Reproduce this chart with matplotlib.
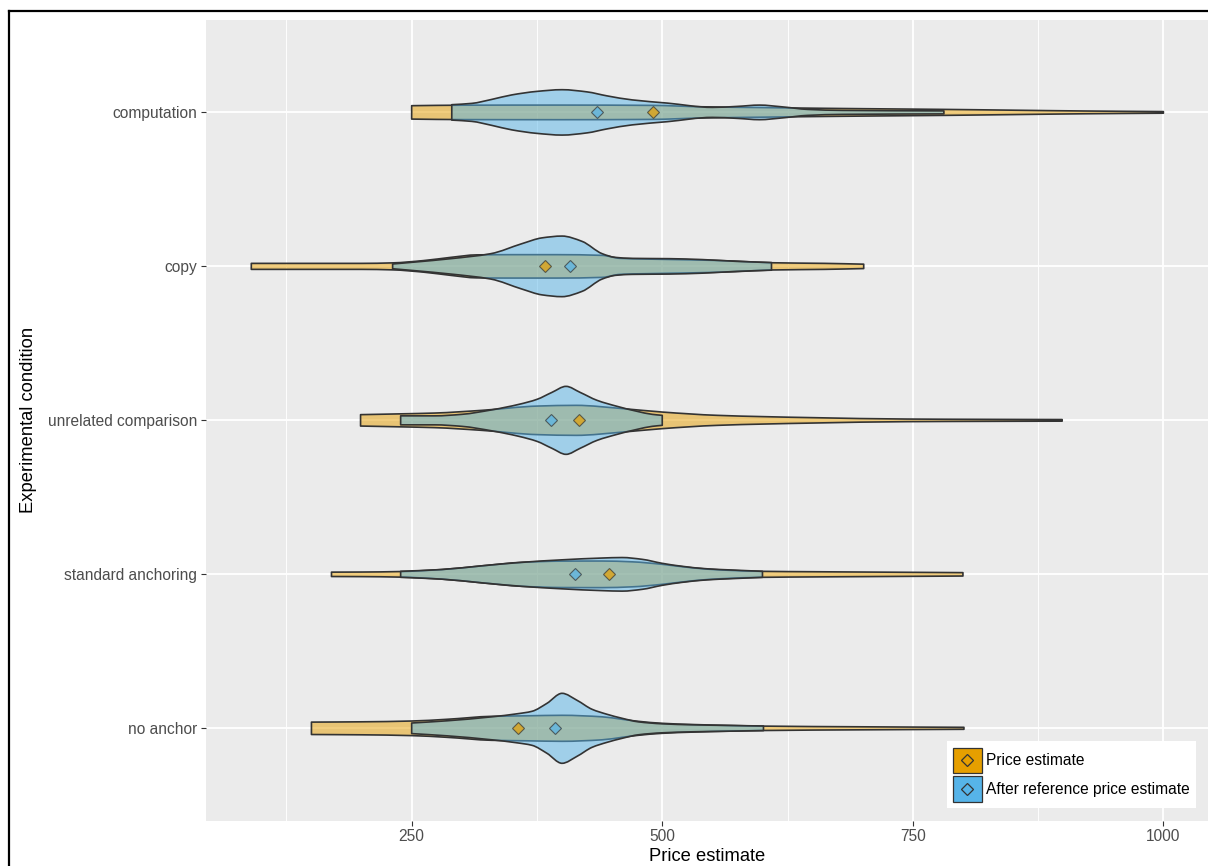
import numpy as np
import matplotlib
matplotlib.use("Agg")
import matplotlib.pyplot as plt
from matplotlib.path import Path
from matplotlib.patches import PathPatch, Patch, Rectangle
from matplotlib.lines import Line2D
from matplotlib.legend_handler import HandlerBase
from matplotlib.colors import to_rgba

plt.rcParams['font.family'] = ['Liberation Sans', 'DejaVu Sans']

# ---- data -------------------------------------------------------------
conditions = ["no anchor", "standard anchoring", "unrelated comparison",
              "copy", "computation"]
series_labels = ["Price estimate", "After reference price estimate"]

# mean price estimates per condition (same order as `conditions`)
mean_price = [356.0, 447.3, 417.4, 382.8, 491.0]
mean_after = [392.9, 412.6, 389.2, 407.8, 434.5]

# kernel density profiles (price grid, relative density) for each violin
noanchor_price_x = [150, 200, 250, 285, 330, 365, 400, 440, 460, 476, 500, 530, 570, 601, 700, 801]
noanchor_price_d = [6.2, 6.5, 7.3, 9.0, 12.0, 12.5, 13.0, 11.5, 9.0, 7.0, 5.0, 3.8, 2.8, 2.2, 1.5, 1.0]
noanchor_after_x = [250, 285, 330, 355, 370, 385, 400, 415, 430, 445, 460, 476, 500, 530, 570, 601]
noanchor_after_d = [5.3, 7.5, 11.5, 14.5, 17.0, 25.0, 35.0, 28.0, 19.0, 14.0, 10.0, 6.5, 4.5, 3.5, 2.8, 2.3]

standard_price_x = [170, 200, 239, 280, 320, 360, 400, 440, 470, 500, 530, 560, 600, 650, 700, 750, 800]
standard_price_d = [2.2, 2.3, 2.8, 4.8, 8.5, 12.0, 13.2, 13.3, 12.5, 10.0, 6.5, 4.3, 3.0, 2.6, 2.3, 2.0, 1.7]
standard_after_x = [239, 280, 320, 360, 400, 440, 460, 480, 500, 520, 545, 570, 600]
standard_after_d = [3.0, 4.8, 8.5, 12.0, 14.5, 16.3, 16.8, 15.0, 11.0, 8.0, 5.5, 4.3, 3.0]

unrelated_price_x = [199, 239, 273, 320, 376, 414, 461, 500, 555, 650, 744, 820, 899]
unrelated_price_d = [5.7, 6.5, 7.3, 10.0, 14.3, 15.0, 11.7, 8.3, 5.0, 2.7, 1.3, 1.0, 0.8]
unrelated_after_x = [239, 273, 300, 330, 357, 375, 390, 404, 418, 435, 455, 475, 490, 500]
unrelated_after_d = [4.5, 4.5, 6.0, 10.5, 16.0, 21.0, 28.0, 34.0, 28.0, 20.0, 14.0, 9.0, 6.0, 5.0]

copy_price_x = [90, 150, 200, 231, 262, 289, 315, 351, 395, 440, 458, 484, 529, 573, 610, 662, 701]
copy_price_d = [3.0, 3.0, 3.0, 3.5, 5.8, 9.0, 11.5, 11.7, 11.7, 11.0, 8.0, 7.3, 6.5, 5.3, 3.6, 3.0, 2.2]
copy_after_x = [231, 253, 289, 329, 360, 380, 400, 420, 440, 453, 470, 507, 540, 574, 609]
copy_after_d = [2.4, 4.3, 7.7, 12.7, 22.7, 28.5, 30.3, 25.0, 12.7, 9.0, 8.0, 7.7, 6.8, 5.0, 3.8]

comp_price_x = [250, 300, 400, 490, 540, 600, 650, 700, 780, 850, 920, 1000]
comp_price_d = [6.7, 7.2, 7.3, 7.0, 5.6, 4.8, 4.2, 3.7, 3.0, 2.2, 1.4, 0.8]
comp_after_x = [290, 310, 330, 350, 375, 400, 425, 445, 470, 505, 550, 575, 597, 620, 645, 680, 781]
comp_after_d = [7.7, 9.0, 13.0, 17.5, 21.0, 22.7, 20.5, 16.5, 12.5, 9.3, 5.0, 6.0, 7.3, 5.5, 3.0, 2.0, 1.5]

price_profiles = [(noanchor_price_x, noanchor_price_d), (standard_price_x, standard_price_d),
                  (unrelated_price_x, unrelated_price_d), (copy_price_x, copy_price_d),
                  (comp_price_x, comp_price_d)]
after_profiles = [(noanchor_after_x, noanchor_after_d), (standard_after_x, standard_after_d),
                  (unrelated_after_x, unrelated_after_d), (copy_after_x, copy_after_d),
                  (comp_after_x, comp_after_d)]

# ---- styling ----------------------------------------------------------
ORANGE = "#E69F00"
BLUE = "#56B4E9"
OUTLINE = "#333333"
PANEL_BG = "#EBEBEB"
TICK_GREY = "#4D4D4D"
DENSITY_SCALE = 1.0 / 154.0   # relative density -> half width in category units

W, H, DPI = 1208, 866, 100


def monotone_slopes(x, y):
    x = np.asarray(x, float)
    y = np.asarray(y, float)
    h = np.diff(x)
    d = np.diff(y) / h
    m = np.zeros_like(y)
    m[0], m[-1] = d[0], d[-1]
    for k in range(1, len(x) - 1):
        if d[k - 1] * d[k] > 0:
            w1 = 2 * h[k] + h[k - 1]
            w2 = h[k] + 2 * h[k - 1]
            m[k] = (w1 + w2) / (w1 / d[k - 1] + w2 / d[k])
    return m


def violin_path(xs, ds, y0):
    xs = np.asarray(xs, float)
    hw = np.asarray(ds, float) * DENSITY_SCALE
    m = monotone_slopes(xs, hw)
    verts = [(xs[0], y0 - hw[0]), (xs[0], y0 + hw[0])]
    codes = [Path.MOVETO, Path.LINETO]
    for i in range(len(xs) - 1):
        dx = xs[i + 1] - xs[i]
        verts += [(xs[i] + dx / 3, y0 + hw[i] + m[i] * dx / 3),
                  (xs[i + 1] - dx / 3, y0 + hw[i + 1] - m[i + 1] * dx / 3),
                  (xs[i + 1], y0 + hw[i + 1])]
        codes += [Path.CURVE4] * 3
    verts.append((xs[-1], y0 - hw[-1]))
    codes.append(Path.LINETO)
    for i in range(len(xs) - 1, 0, -1):
        dx = xs[i] - xs[i - 1]
        verts += [(xs[i] - dx / 3, y0 - hw[i] + m[i] * dx / 3),
                  (xs[i - 1] + dx / 3, y0 - hw[i - 1] - m[i - 1] * dx / 3),
                  (xs[i - 1], y0 - hw[i - 1])]
        codes += [Path.CURVE4] * 3
    verts.append((xs[0], y0 - hw[0]))
    codes.append(Path.CLOSEPOLY)
    return Path(verts, codes)


class DiamondKey(HandlerBase):
    """Legend key: filled square with a diamond marker centred on it."""

    def create_artists(self, legend, orig_handle, xdescent, ydescent,
                       width, height, fontsize, trans):
        fc = orig_handle.get_facecolor()
        rect = Rectangle((-xdescent, -ydescent), width, height, facecolor=fc,
                         edgecolor=OUTLINE, lw=0.9, transform=trans)
        cx = -xdescent + width / 2
        cy = -ydescent + height / 2
        mark = Line2D([cx], [cy], ls="none", marker="D", ms=6.0, mfc=fc,
                      mec=OUTLINE, mew=0.9, transform=trans)
        return [rect, mark]


fig = plt.figure(figsize=(W / DPI, H / DPI), dpi=DPI, facecolor="white")
ax_left, ax_right, ax_top, ax_bottom = 205.7, 1209.0, 20.0, 820.7
ax = fig.add_axes([ax_left / W, 1 - ax_bottom / H,
                   (ax_right - ax_left) / W, (ax_bottom - ax_top) / H])
ax.set_facecolor(PANEL_BG)
for s in ax.spines.values():
    s.set_visible(False)

ypos = np.arange(1, len(conditions) + 1)

for y0, (px, pd_), (axx, ad) in zip(ypos, price_profiles, after_profiles):
    ax.add_patch(PathPatch(violin_path(px, pd_, y0), facecolor=to_rgba(ORANGE, 0.5),
                           edgecolor=OUTLINE, lw=1.2, joinstyle="round", zorder=2))
    ax.add_patch(PathPatch(violin_path(axx, ad, y0), facecolor=to_rgba(BLUE, 0.5),
                           edgecolor=OUTLINE, lw=1.2, joinstyle="round", zorder=3))

ax.plot(mean_price, ypos, ls="none", marker="D", ms=6.3, mfc=ORANGE, mec=OUTLINE,
        mew=0.8, alpha=0.7, zorder=5)
ax.plot(mean_after, ypos, ls="none", marker="D", ms=6.3, mfc=BLUE, mec=OUTLINE,
        mew=0.8, alpha=0.7, zorder=5)

ax.set_xlim(44.5, 1045.5)
ax.set_ylim(0.4, 5.6)
ax.set_xticks([250, 500, 750, 1000])
ax.set_xticks([125, 375, 625, 875], minor=True)
ax.set_yticks(ypos)
ax.set_yticklabels(conditions)
ax.set_axisbelow(True)
ax.grid(which="major", color="white", lw=1.35)
ax.grid(which="minor", axis="x", color="white", lw=0.65)
ax.tick_params(which="major", length=3.6, width=0.8, color=OUTLINE,
               labelsize=11.2, labelcolor=TICK_GREY, pad=2.5)
ax.tick_params(which="minor", length=0)

ax.set_xlabel("Price estimate", fontsize=13.2, color="black")
ax.set_ylabel("Experimental condition", fontsize=13.2, color="black")
ax.xaxis.set_label_coords(0.5, -0.034)
ax.yaxis.set_label_coords(-0.168, 0.5)

handles = [Patch(facecolor=ORANGE), Patch(facecolor=BLUE)]
leg = ax.legend(handles, series_labels, handler_map={Patch: DiamondKey()},
                loc="lower right", bbox_to_anchor=(0.987, 0.0159), borderaxespad=0,
                fontsize=11.2, handlelength=1.86, handleheight=2.19, handletextpad=0.26,
                labelspacing=0.15, borderpad=0.4, frameon=True, fancybox=False,
                facecolor="white", edgecolor="none", framealpha=1)
leg.set_zorder(10)

# outer frame lines
fig.add_artist(Line2D([8.5 / W, 8.5 / W], [0, 1 - 10.5 / H], color="black", lw=1.6,
                      transform=fig.transFigure))
fig.add_artist(Line2D([8.5 / W, 1], [1 - 10.5 / H, 1 - 10.5 / H], color="black", lw=1.6,
                      transform=fig.transFigure))

fig.savefig("out.png", dpi=DPI, facecolor="white")
